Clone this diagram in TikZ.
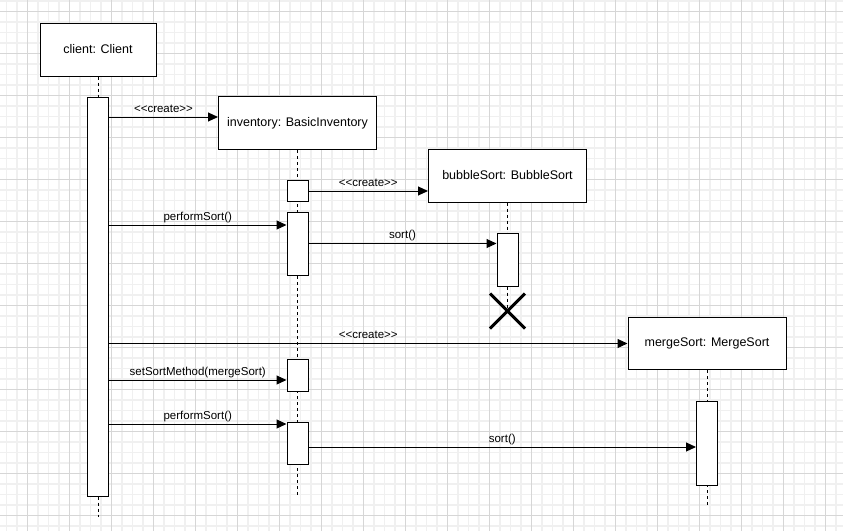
\documentclass[tikz,border=0pt]{standalone}
\usepackage{fontspec}
\setmainfont{Liberation Sans}[Ligatures=TeXOff]
\usetikzlibrary{arrows.meta,shapes.misc,backgrounds}

\begin{document}
\begin{tikzpicture}[x=1pt,y=-1pt,
    obj/.style={draw,fill=white,line width=1pt,minimum width=158pt,minimum height=53pt,inner sep=0pt,font=\fontsize{12.5}{15}\selectfont},
    act/.style={draw,fill=white,line width=1pt,minimum width=21pt,inner sep=0pt},
    msg/.style={line width=1pt,-{Triangle[length=10pt,width=9pt]}},
    lbl/.style={anchor=base,yshift=5pt,inner sep=0pt,font=\fontsize{11.5}{13}\selectfont},
    lifeline/.style={line width=1pt,dash pattern=on 3pt off 3pt},
    gridminor/.style={draw=black!6,line width=1.5pt},
    gridmajor/.style={draw=black!16,line width=0.8pt}]
  \useasboundingbox (0,0) rectangle (843,531);

  \node[obj,minimum width=116pt] (client) at (98,49.5) {client: Client};
  \node[obj] (inventory) at (297.5,123) {inventory: BasicInventory};
  \node[obj] (bubble) at (507.5,175.5) {bubbleSort: BubbleSort};
  \node[obj,minimum height=52.5pt] (merge) at (707,343.5) {mergeSort: MergeSort};

  \node[act,minimum height=399pt] (clientAct) at (98,296.5) {};
  \node[act,minimum height=21pt] (invAct1) at (297.5,191) {};
  \node[act,minimum height=63pt] (invAct2) at (297.5,243.5) {};
  \node[act,minimum height=32pt] (invAct3) at (297.5,375) {};
  \node[act,minimum height=42pt] (invAct4) at (297.5,443) {};
  \node[act,minimum height=53pt] (bubbleAct) at (507.5,259.5) {};
  \node[act,minimum height=84pt] (mergeAct) at (707,443) {};
  \node[draw,cross out,line width=3pt,minimum size=32pt,inner sep=0pt] (bubbleX) at (507.5,311) {};

  \coordinate (clientEnd) at (98,517);
  \coordinate (invEnd) at (297.5,495);
  \coordinate (mergeEnd) at (707,507);

  \coordinate (m1) at ([yshift=6pt]inventory.west);
  \coordinate (m3) at ([yshift=18.5pt]invAct2.west);
  \coordinate (m6) at ([yshift=-5pt]invAct3.west);
  \coordinate (m7) at ([yshift=19pt]invAct4.west);
  \coordinate (m8) at ([yshift=-4pt]invAct4.east);

  \draw[msg] (clientAct.east |- m1) -- node[lbl] {<<create>>} (m1);
  \draw[msg] (invAct1.east) -- node[lbl] {<<create>>} (invAct1.east -| bubble.west);
  \draw[msg] (clientAct.east |- m3) -- node[lbl] {performSort()} (m3);
  \draw[msg] (invAct2.east) -- node[lbl] {sort()} (invAct2.east -| bubbleAct.west);
  \draw[msg] (clientAct.east |- merge.west) -- node[lbl] {<<create>>} (merge.west);
  \draw[msg] (clientAct.east |- m6) -- node[lbl] {setSortMethod(mergeSort)} (m6);
  \draw[msg] (clientAct.east |- m7) -- node[lbl] {performSort()} (m7);
  \draw[msg] (m8) -- node[lbl] {sort()} (m8 -| mergeAct.west);

  \begin{pgfonlayer}{background}
    \fill[white] (0,0) rectangle (843,531);
    \foreach \i in {0,...,80}
      \draw[gridminor] ({6.3+10.5*\i},0) -- ({6.3+10.5*\i},531);
    \foreach \j in {0,...,51}
      \draw[gridminor] (0,{1.2+10.5*\j}) -- (843,{1.2+10.5*\j});
    \foreach \i in {0,...,19}
      \draw[gridmajor] ({27.3+42*\i},0) -- ({27.3+42*\i},531);
    \foreach \j in {0,...,12}
      \draw[gridmajor] (0,{11.7+42*\j}) -- (843,{11.7+42*\j});

    \draw[lifeline] (client) -- (clientAct);
    \draw[lifeline] (clientAct) -- (clientEnd);
    \draw[lifeline] (inventory) -- (invEnd);
    \draw[lifeline] (bubble) -- (bubbleX.center);
    \draw[lifeline] (merge) -- (mergeEnd);
  \end{pgfonlayer}
\end{tikzpicture}
\end{document}
